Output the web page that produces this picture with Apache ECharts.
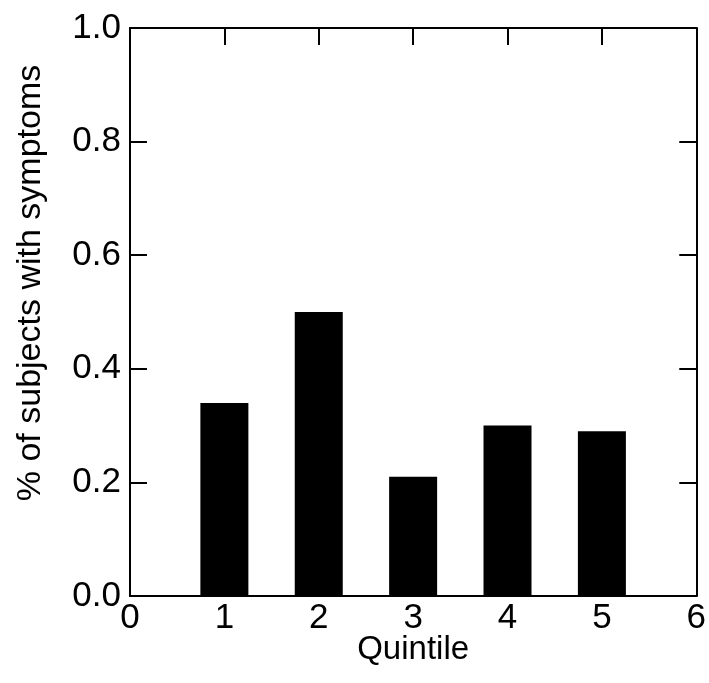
<!DOCTYPE html>
<html>
<head>
<meta charset="utf-8">
<script src="https://cdn.jsdelivr.net/npm/echarts@6/dist/echarts.min.js"></script>
<style>
  html, body { margin: 0; padding: 0; background: #fff; }
  #chart { width: 709px; height: 683px; }
</style>
</head>
<body>
<div id="chart"></div>
<script>
// quintile position and share of subjects with symptoms
const quintiles = [1, 2, 3, 4, 5]
const shares = [0.34, 0.50, 0.21, 0.30, 0.29]

const font = '"Liberation Sans", Arial, sans-serif'
const black = '#000'

const axisCommon = {
  axisLine: { show: true, onZero: false, lineStyle: { color: black, width: 2 } },
  axisTick: { show: true, inside: true, length: 17, lineStyle: { color: black, width: 2 } },
  splitLine: { show: false }
}

const chart = echarts.init(document.getElementById('chart'))
chart.setOption({
  animation: false,
  backgroundColor: '#fff',
  grid: { left: 130, right: 12, top: 28, bottom: 87 },
  xAxis: [
    {
      ...axisCommon,
      type: 'value',
      min: 0,
      max: 6,
      interval: 1,
      position: 'bottom',
      name: 'Quintile',
      nameLocation: 'middle',
      nameMoveOverlap: false,
      nameGap: 37,
      nameTextStyle: { color: black, fontSize: 33, fontFamily: font },
      axisLabel: { color: black, fontSize: 35, fontFamily: font, margin: 5 }
    },
    {
      ...axisCommon,
      type: 'value',
      min: 0,
      max: 6,
      interval: 1,
      position: 'top',
      axisLabel: { show: false }
    }
  ],
  yAxis: [
    {
      ...axisCommon,
      type: 'value',
      min: 0,
      max: 1,
      interval: 0.2,
      position: 'left',
      name: '% of subjects with symptoms',
      nameLocation: 'middle',
      nameMoveOverlap: false,
      nameGap: 82,
      nameTextStyle: { color: black, fontSize: 34, fontFamily: font, padding: [0, 0, 0, 58] },
      axisLabel: {
        color: black, fontSize: 35, fontFamily: font, margin: 9,
        formatter: v => v.toFixed(1)
      }
    },
    {
      ...axisCommon,
      type: 'value',
      min: 0,
      max: 1,
      interval: 0.2,
      position: 'right',
      axisLabel: { show: false }
    }
  ],
  series: [
    {
      type: 'bar',
      xAxisIndex: 0,
      yAxisIndex: 0,
      barWidth: 48,
      itemStyle: { color: black },
      data: quintiles.map((q, i) => [q, shares[i]])
    }
  ]
})
</script>
</body>
</html>
